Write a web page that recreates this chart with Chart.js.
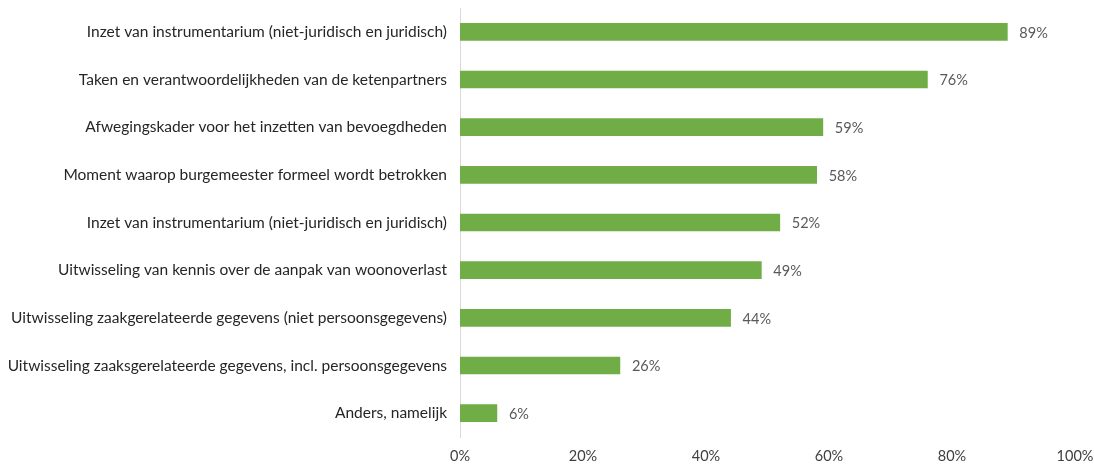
<!DOCTYPE html>
<html>
<head>
<meta charset="utf-8">
<script src="https://cdn.jsdelivr.net/npm/chart.js@4"></script>
<style>
  html, body { margin: 0; padding: 0; background: #fff; }
  #wrap { width: 1094px; height: 464px; }
</style>
</head>
<body>
<div id="wrap"><canvas id="chart"></canvas></div>
<script>
// categorieën en percentages
const categorieen = [
  "Inzet van instrumentarium (niet-juridisch en juridisch)",
  "Taken en verantwoordelijkheden van de ketenpartners",
  "Afwegingskader voor het inzetten van bevoegdheden",
  "Moment waarop burgemeester formeel wordt betrokken",
  "Inzet van instrumentarium (niet-juridisch en juridisch)",
  "Uitwisseling van kennis over de aanpak van woonoverlast",
  "Uitwisseling zaakgerelateerde gegevens (niet persoonsgegevens)",
  "Uitwisseling zaaksgerelateerde gegevens, incl. persoonsgegevens",
  "Anders, namelijk"
];
const percentages = [89, 76, 59, 58, 52, 49, 44, 26, 6];
const asTicks = [0, 20, 40, 60, 80, 100];

const lettertype = "Lato, 'Liberation Sans', sans-serif";

// percentage rechts naast elke balk
const waardeLabels = {
  id: "waardeLabels",
  afterDatasetsDraw(chart) {
    const ctx = chart.ctx;
    const meta = chart.getDatasetMeta(0);
    ctx.save();
    ctx.font = "14.5px " + lettertype;
    ctx.fillStyle = "#595959";
    ctx.textAlign = "left";
    ctx.textBaseline = "middle";
    meta.data.forEach((bar, i) => {
      ctx.fillText(percentages[i] + "%", bar.x + 12, bar.y + 1);
    });
    ctx.restore();
  }
};

new Chart(document.getElementById("chart"), {
  type: "bar",
  data: {
    labels: categorieen,
    datasets: [{
      data: percentages,
      backgroundColor: "#70AD47",
      barThickness: 17
    }]
  },
  plugins: [waardeLabels],
  options: {
    indexAxis: "y",
    responsive: true,
    maintainAspectRatio: false,
    animation: false,
    layout: { padding: { top: 8, right: 19, left: 0, bottom: 0 } },
    plugins: {
      legend: { display: false },
      tooltip: { enabled: false }
    },
    scales: {
      x: {
        min: 0,
        max: 100,
        afterBuildTicks: s => { s.ticks = asTicks.map(v => ({ value: v })); },
        afterFit: s => { s.height = 27; s.paddingLeft = 0; s.paddingRight = 0; },
        grid: { display: false, drawTicks: false },
        border: { display: false },
        ticks: {
          padding: 11,
          color: "#404040",
          font: { family: lettertype, size: 14.5 },
          callback: v => v + "%",
          maxRotation: 0
        }
      },
      y: {
        afterFit: s => { s.width = 460; s.paddingTop = 0; s.paddingBottom = 0; },
        grid: { display: false, drawTicks: false },
        border: { display: true, color: "#D9D9D9", width: 1 },
        ticks: {
          padding: 13,
          color: "#262626",
          font: { family: lettertype, size: 15.5 },
          autoSkip: false
        }
      }
    }
  }
});
</script>
</body>
</html>
